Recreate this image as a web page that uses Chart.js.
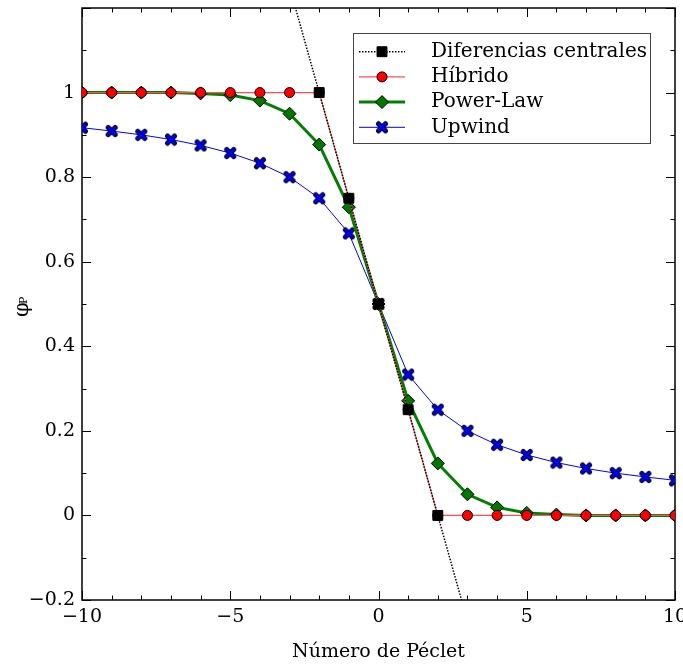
<!DOCTYPE html>
<html>
<head>
<meta charset="utf-8">
<script src="https://cdn.jsdelivr.net/npm/chart.js@4.4.0/dist/chart.umd.min.js"></script>
<style>
  html, body { margin: 0; padding: 0; background: #fff; }
</style>
</head>
<body>
<canvas id="grafico" width="683" height="664"></canvas>
<script>
// *** DONNEES ***
const peclet = [-10, -9, -8, -7, -6, -5, -4, -3, -2, -1, 0, 1, 2, 3, 4, 5, 6, 7, 8, 9, 10];
const pecletCentral = [-3, -2, -1, 0, 1, 2, 3];
const phiCentral = [1.25, 1, 0.75, 0.5, 0.25, 0, -0.25];
const phiHibrido = [1, 1, 1, 1, 1, 1, 1, 1, 1, 0.75, 0.5, 0.25, 0, 0, 0, 0, 0, 0, 0, 0, 0];
const phiPowerLaw = [1, 1, 1, 1, 0.998, 0.994, 0.981, 0.95, 0.877, 0.729, 0.5, 0.271, 0.123, 0.05, 0.019, 0.006, 0.002, 0, 0, 0, 0];
const phiUpwind = [0.917, 0.909, 0.9, 0.889, 0.875, 0.857, 0.833, 0.8, 0.75, 0.667, 0.5, 0.333, 0.25, 0.2, 0.167, 0.143, 0.125, 0.111, 0.1, 0.091, 0.083];
const ticksX = [-10, -5, 0, 5, 10];
const ticksY = [-0.2, 0, 0.2, 0.4, 0.6, 0.8, 1];
const etiquetas = ['Diferencias centrales', 'Híbrido', 'Power-Law', 'Upwind'];

const police = "'DejaVu Serif', serif";

// format des nombres avec un vrai signe moins
const fmt = (v) => (v < 0 ? '\u2212' : '') + Math.abs(v);

// marqueur "X" bleu avec contour noir (image pour pointStyle)
const croix = document.createElement('canvas');
croix.width = 14;
croix.height = 14;
{
  const c = croix.getContext('2d');
  c.lineCap = 'round';
  c.beginPath();
  c.moveTo(3.5, 3.5); c.lineTo(10.5, 10.5);
  c.moveTo(10.5, 3.5); c.lineTo(3.5, 10.5);
  c.strokeStyle = '#000';
  c.lineWidth = 5;
  c.stroke();
  c.strokeStyle = '#0000ff';
  c.lineWidth = 2.8;
  c.stroke();
}

const points = (xs, ys) => xs.map((x, i) => ({ x: x, y: ys[i] }));

// *** CADRE, GRADUATIONS, TITRES ET LEGENDE ***
const cadre = {
  id: 'cadre',
  beforeDatasetsDraw(chart) {
    const { ctx, chartArea: a, scales } = chart;
    ctx.save();
    ctx.strokeStyle = '#000';
    ctx.lineWidth = 1.5;
    ctx.strokeRect(a.left, a.top, a.right - a.left, a.bottom - a.top);
    ctx.lineWidth = 1;
    // graduations x (majeures tous les 5, mineures tous les 1)
    for (let v = -10; v <= 10; v++) {
      const px = Math.round(scales.x.getPixelForValue(v)) + 0.5;
      const len = v % 5 === 0 ? 9 : 4.5;
      ctx.beginPath();
      ctx.moveTo(px, a.bottom); ctx.lineTo(px, a.bottom - len);
      ctx.moveTo(px, a.top); ctx.lineTo(px, a.top + len);
      ctx.stroke();
    }
    // graduations y (majeures tous les 0.2, mineures tous les 0.1)
    for (let k = -2; k <= 12; k++) {
      const py = Math.round(scales.y.getPixelForValue(k / 10)) + 0.5;
      const len = k % 2 === 0 ? 9 : 4.5;
      ctx.beginPath();
      ctx.moveTo(a.left, py); ctx.lineTo(a.left + len, py);
      ctx.moveTo(a.right, py); ctx.lineTo(a.right - len, py);
      ctx.stroke();
    }
    ctx.restore();
  },
  afterDraw(chart) {
    const { ctx, chartArea: a } = chart;
    ctx.save();
    ctx.fillStyle = '#000';
    // titre axe x
    ctx.font = '19px ' + police;
    ctx.textAlign = 'center';
    ctx.textBaseline = 'alphabetic';
    ctx.fillText('Número de Péclet', (a.left + a.right) / 2, 657);
    // titre axe y : phi indice P
    ctx.translate(28, 304);
    ctx.rotate(-Math.PI / 2);
    ctx.textAlign = 'left';
    ctx.font = '21px ' + police;
    ctx.fillText('φ', -13, 0);
    ctx.font = '11px ' + police;
    ctx.fillText('P', 0, -1);
    ctx.restore();

    // légende
    ctx.save();
    const bx = 353.5, by = 33.5, bw = 297, bh = 110;
    ctx.fillStyle = '#fff';
    ctx.fillRect(bx, by, bw, bh);
    ctx.strokeStyle = '#444';
    ctx.lineWidth = 1;
    ctx.strokeRect(bx, by, bw, bh);
    chart.data.datasets.forEach((ds, i) => {
      const y = 51.7 + 25.2 * i;
      ctx.save();
      ctx.strokeStyle = ds.borderColor;
      ctx.lineWidth = ds.borderWidth;
      ctx.setLineDash(ds.borderDash || []);
      ctx.beginPath();
      ctx.moveTo(359, y); ctx.lineTo(405, y);
      ctx.stroke();
      ctx.restore();
      ctx.save();
      ctx.fillStyle = ds.pointBackgroundColor;
      ctx.strokeStyle = ds.pointBorderColor;
      ctx.lineWidth = ds.pointBorderWidth;
      Chart.helpers.drawPoint(ctx, {
        pointStyle: ds.pointStyle,
        radius: ds.pointRadius,
        borderWidth: ds.pointBorderWidth,
        rotation: 0
      }, 382, y);
      ctx.restore();
      ctx.fillStyle = '#000';
      ctx.font = '20px ' + police;
      ctx.textAlign = 'left';
      ctx.textBaseline = 'middle';
      ctx.fillText(etiquetas[i], 431, y);
    });
    ctx.restore();
  }
};

new Chart(document.getElementById('grafico'), {
  type: 'line',
  data: {
    datasets: [
      {
        label: etiquetas[0],
        data: points(pecletCentral, phiCentral),
        borderColor: '#000',
        borderWidth: 1.5,
        borderDash: [1.5, 1.5],
        pointStyle: 'rect',
        pointRadius: 7,
        pointBackgroundColor: '#000',
        pointBorderColor: '#000',
        pointBorderWidth: 1,
        clip: 0
      },
      {
        label: etiquetas[1],
        data: points(peclet, phiHibrido),
        borderColor: '#ff5050',
        borderWidth: 1.2,
        pointStyle: 'circle',
        pointRadius: 5,
        pointBackgroundColor: '#ff0000',
        pointBorderColor: '#000',
        pointBorderWidth: 1
      },
      {
        label: etiquetas[2],
        data: points(peclet, phiPowerLaw),
        borderColor: '#008000',
        borderWidth: 3,
        pointStyle: 'rectRot',
        pointRadius: 6.5,
        pointBackgroundColor: '#007800',
        pointBorderColor: '#000',
        pointBorderWidth: 1
      },
      {
        label: etiquetas[3],
        data: points(peclet, phiUpwind),
        borderColor: '#0000ff',
        borderWidth: 1,
        pointStyle: croix,
        pointRadius: 6,
        pointBackgroundColor: '#0000ff',
        pointBorderColor: '#000',
        pointBorderWidth: 1
      }
    ]
  },
  options: {
    responsive: false,
    animation: false,
    events: [],
    layout: { padding: { top: 6, right: 8, left: 0, bottom: 0 } },
    plugins: { legend: { display: false }, tooltip: { enabled: false } },
    elements: { line: { tension: 0 } },
    scales: {
      x: {
        type: 'linear',
        min: -10,
        max: 10,
        afterBuildTicks: (s) => { s.ticks = ticksX.map(v => ({ value: v })); },
        afterFit: (s) => { s.height = 64; s.paddingLeft = 0; s.paddingRight = 0; },
        grid: { display: false, drawTicks: false },
        border: { display: false },
        ticks: { color: '#000', font: { family: police, size: 19 }, padding: 6, maxRotation: 0, callback: (v) => fmt(v) }
      },
      y: {
        type: 'linear',
        min: -0.2,
        max: 1.2,
        afterBuildTicks: (s) => { s.ticks = ticksY.map(v => ({ value: v })); },
        afterFit: (s) => { s.width = 82; s.paddingTop = 0; s.paddingBottom = 0; },
        grid: { display: false, drawTicks: false },
        border: { display: false },
        ticks: { color: '#000', font: { family: police, size: 19 }, padding: 7, callback: (v) => fmt(v) }
      }
    }
  },
  plugins: [cadre]
});
</script>
</body>
</html>
